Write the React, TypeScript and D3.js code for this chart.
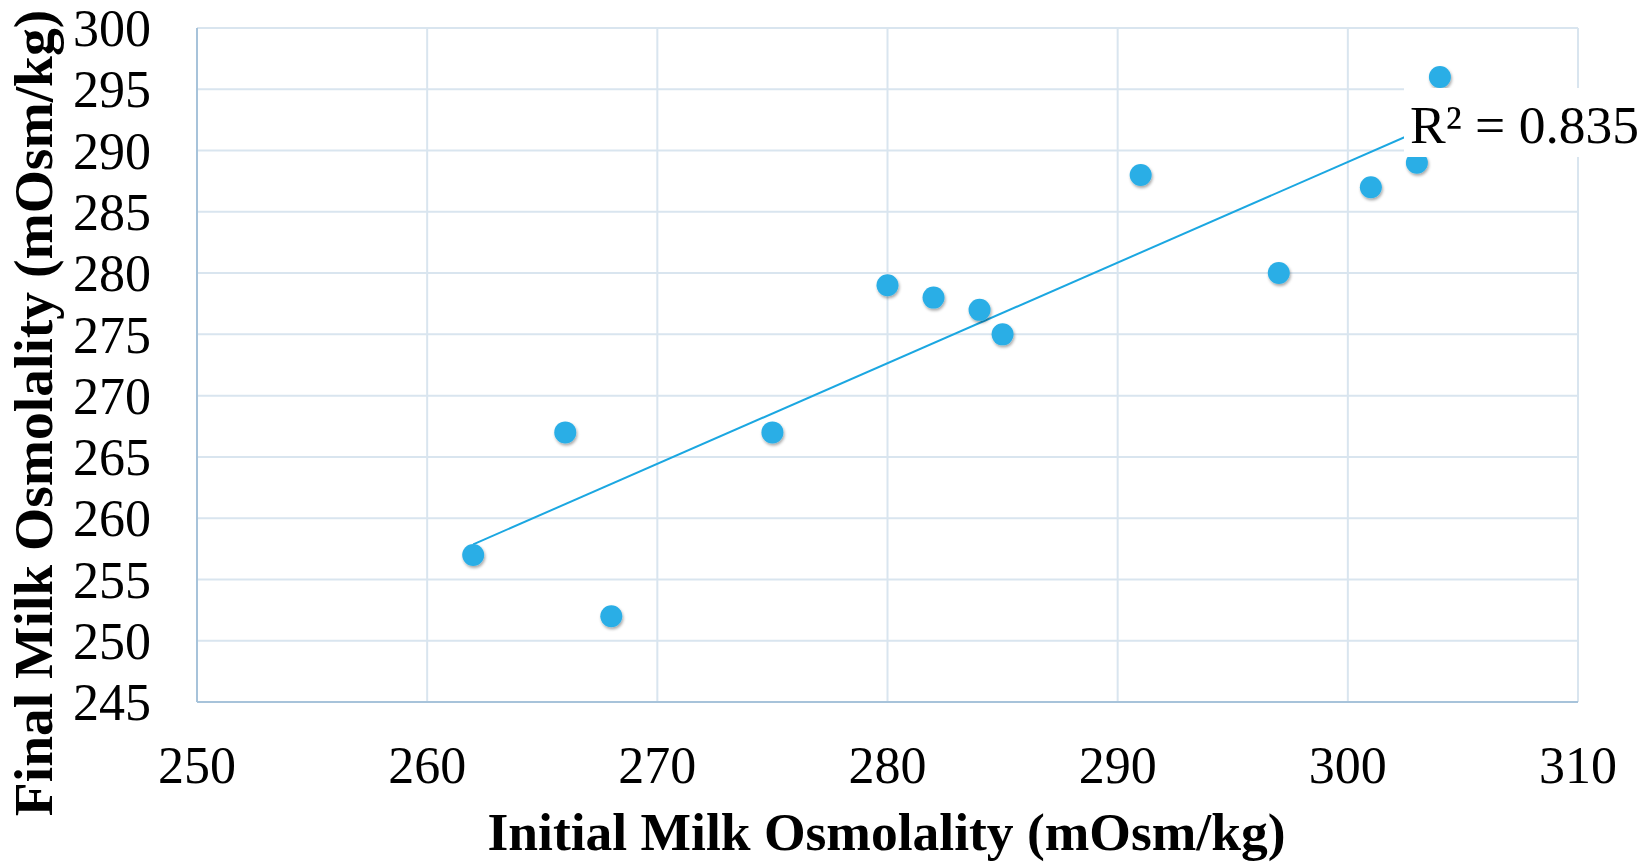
import React from 'react';
import * as d3 from 'd3';

// initial vs final milk osmolality (mOsm/kg), one entry per sample
const initialOsm = [262, 268, 266, 275, 280, 282, 284, 285, 291, 297, 301, 303, 304];
const finalOsm = [257, 252, 267, 267, 279, 278, 277, 275, 288, 280, 287, 289, 296];
const xTicks = [250, 260, 270, 280, 290, 300, 310];
const yTicks = [245, 250, 255, 260, 265, 270, 275, 280, 285, 290, 295, 300];
const xTitle = 'Initial Milk Osmolality (mOsm/kg)';
const yTitle = 'Final Milk Osmolality (mOsm/kg)';

const W = 1651;
const H = 862;
const serif = '"Liberation Serif", "Times New Roman", serif';

const App = () => {
  const x = d3.scaleLinear().domain([250, 310]).range([197, 1578]);
  const y = d3.scaleLinear().domain([245, 300]).range([702, 28]);

  // least squares trendline + r squared
  const mx = d3.mean(initialOsm) as number;
  const my = d3.mean(finalOsm) as number;
  let sxy = 0, sxx = 0, syy = 0;
  initialOsm.forEach((v, i) => {
    sxy += (v - mx) * (finalOsm[i] - my);
    sxx += (v - mx) ** 2;
    syy += (finalOsm[i] - my) ** 2;
  });
  const slope = sxy / sxx;
  const icpt = my - slope * mx;
  const r2 = (sxy * sxy) / (sxx * syy);
  const xExt = d3.extent(initialOsm) as [number, number];
  const trend = d3.line<number>()
    .x(d => x(d))
    .y(d => y(icpt + slope * d))(xExt);

  return (
    <svg width={W} height={H} style={{ display: 'block', position: 'absolute', left: 0, top: 0 }}>
      <defs>
        <filter id="shadow" x="-50%" y="-50%" width="200%" height="200%">
          <feDropShadow dx="1" dy="2" stdDeviation="1.6" floodColor="#000" floodOpacity="0.35" />
        </filter>
      </defs>
      <rect width={W} height={H} fill="#fff" />

      {/* grid */}
      {xTicks.slice(1).map(t => (
        <line key={'gx' + t} x1={x(t)} x2={x(t)} y1={y(300)} y2={y(245)} stroke="#d9e5ef" strokeWidth={2} />
      ))}
      {yTicks.slice(1).map(t => (
        <line key={'gy' + t} x1={x(250)} x2={x(310)} y1={y(t)} y2={y(t)} stroke="#d9e5ef" strokeWidth={2} />
      ))}
      {/* axis lines */}
      <line x1={x(250)} x2={x(250)} y1={y(300)} y2={y(245)} stroke="#a7c3da" strokeWidth={2} />
      <line x1={x(250)} x2={x(310)} y1={y(245)} y2={y(245)} stroke="#a7c3da" strokeWidth={2} />

      {/* tick labels */}
      {yTicks.map(t => (
        <text key={'ty' + t} x={151} y={y(t)} dy="0.35em" textAnchor="end"
          fontFamily={serif} fontSize={52} fill="#000">{t}</text>
      ))}
      {xTicks.map(t => (
        <text key={'tx' + t} x={x(t)} y={783} textAnchor="middle"
          fontFamily={serif} fontSize={52} fill="#000">{t}</text>
      ))}

      {/* trendline */}
      <path d={trend || ''} fill="none" stroke="#1ba7e1" strokeWidth={2} />

      {/* points */}
      {initialOsm.map((v, i) => (
        <circle key={i} cx={x(v)} cy={y(finalOsm[i])} r={11} fill="#2aaee6" filter="url(#shadow)" />
      ))}

      {/* r squared label */}
      <rect x={1404} y={88} width={246} height={69} fill="#fff" />
      <text x={1410} y={143} fontFamily={serif} fontSize={53.5} fill="#000">
        {`R² = ${r2.toFixed(3)}`}
      </text>

      {/* axis titles */}
      <text x={(490 + 1283) / 2} y={850} textAnchor="middle" fontFamily={serif}
        fontWeight="bold" fontSize={53.5} fill="#000">{xTitle}</text>
      <text transform={`translate(52,${413}) rotate(-90)`} textAnchor="middle" fontFamily={serif}
        fontWeight="bold" fontSize={55.5} fill="#000">{yTitle}</text>
    </svg>
  );
};

export default App;
